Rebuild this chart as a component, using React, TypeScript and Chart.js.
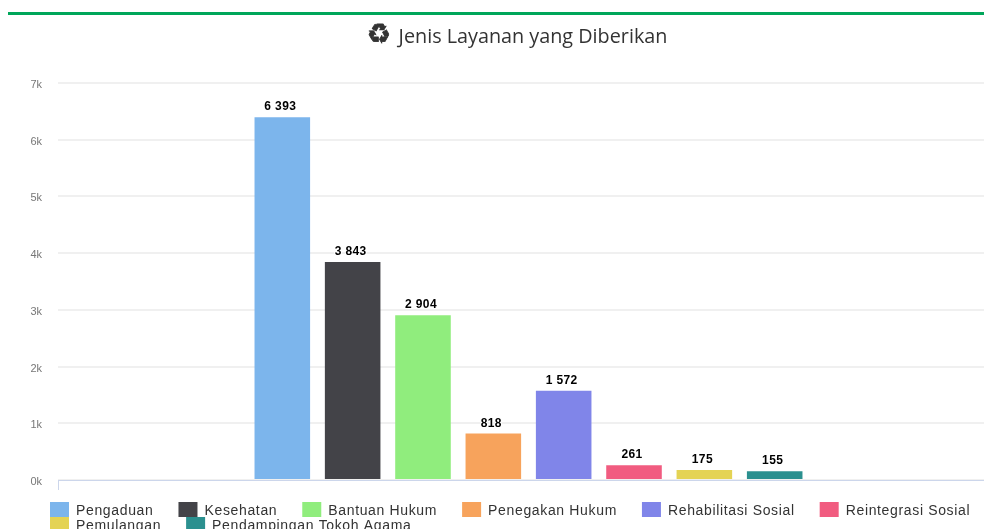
import React, { useEffect, useRef } from "react";
import { Chart, registerables } from "chart.js";

Chart.register(...registerables);

const categories = ["Jenis Layanan"];
const seriesNames = ["Pengaduan", "Kesehatan", "Bantuan Hukum", "Penegakan Hukum", "Rehabilitasi Sosial", "Reintegrasi Sosial", "Pemulangan", "Pendampingan Tokoh Agama"];
const seriesValues = [6393, 3843, 2904, 818, 1572, 261, 175, 155];
const seriesColors = ["#7cb5ec", "#434348", "#90ed7d", "#f7a35c", "#8085e9", "#f15c80", "#e4d354", "#2b908f"];
const titleText = "Jenis Layanan yang Diberikan";
const titleIcon = "♻";

const formatValue = (v: number) => String(v).replace(/\B(?=(\d{3})+(?!\d))/g, " ");

const titleShift = {
  id: "titleShift",
  afterLayout(chart: any) {
    chart.titleBlock.left = 0;
    chart.titleBlock.right = 1066;
  },
};

const valueLabels = {
  id: "valueLabels",
  afterDatasetsDraw(chart: any) {
    const ctx = chart.ctx;
    ctx.save();
    ctx.font = 'bold 12px "Liberation Sans", Arial, sans-serif';
    (ctx as any).letterSpacing = "0.4px";
    ctx.textAlign = "center";
    ctx.textBaseline = "alphabetic";
    ctx.lineJoin = "round";
    chart.data.datasets.forEach((ds: any, i: number) => {
      const el = chart.getDatasetMeta(i).data[0];
      const text = formatValue(ds.data[0]);
      ctx.lineWidth = 2;
      ctx.strokeStyle = "#ffffff";
      ctx.fillStyle = "#000000";
      ctx.strokeText(text, el.x - 2, el.y - 7);
      ctx.fillText(text, el.x - 2, el.y - 7);
    });
    ctx.restore();
  },
};

const titleGlyph = {
  id: "titleGlyph",
  afterDraw(chart: any) {
    const ctx = chart.ctx;
    ctx.save();
    ctx.font = '27px "DejaVu Sans", sans-serif';
    ctx.textAlign = "center";
    ctx.textBaseline = "middle";
    ctx.fillStyle = "#333333";
    ctx.strokeStyle = "#333333";
    ctx.lineWidth = 0.8;
    ctx.fillText(titleIcon, 379, 36);
    ctx.strokeText(titleIcon, 379, 36);
    ctx.restore();
  },
};

const compactLegend = {
  id: "compactLegend",
  afterDraw(chart: any) {
    const ctx = chart.ctx;
    const startX = 50;
    const maxX = 985;
    const gap = 25;
    const boxW = 19;
    const boxH = 15;
    const textGap = 7;
    const rowH = 15;
    let x = startX;
    let y = 502;
    ctx.save();
    ctx.font = '14px "Liberation Sans", Arial, sans-serif';
    (ctx as any).letterSpacing = "0.65px";
    ctx.textAlign = "left";
    ctx.textBaseline = "alphabetic";
    chart.data.datasets.forEach((ds: any) => {
      const w = ctx.measureText(ds.label).width;
      if (x + boxW + textGap + w > maxX) {
        x = startX;
        y += rowH;
      }
      ctx.fillStyle = ds.backgroundColor;
      ctx.fillRect(x, y, boxW, boxH);
      ctx.fillStyle = "#333333";
      ctx.fillText(ds.label, x + boxW + textGap, y + 13);
      x += boxW + textGap + w + gap;
    });
    ctx.restore();
  },
};

export default function App() {
  const ref = useRef<HTMLCanvasElement>(null);

  useEffect(() => {
    const chart = new Chart(ref.current as HTMLCanvasElement, {
      type: "bar",
      data: {
        labels: categories,
        datasets: seriesNames.map((name, i) => ({
          label: name,
          data: [seriesValues[i]],
          backgroundColor: seriesColors[i],
          barPercentage: 0.79,
          categoryPercentage: 0.598,
        })),
      },
      options: {
        responsive: false,
        animation: false,
        layout: { padding: { left: 0, right: 67, top: 0, bottom: 39 } },
        plugins: {
          legend: { display: false },
          tooltip: { enabled: false },
          title: {
            display: true,
            text: titleText,
            color: "#333333",
            font: { family: '"Open Sans", "DejaVu Sans", sans-serif', size: 19.8, weight: "normal" },
            padding: { top: 25, bottom: 34 },
          },
        },
        scales: {
          x: {
            grid: { drawOnChartArea: false, drawTicks: true, tickLength: 10, color: "#ccd6eb" },
            border: { color: "#ccd6eb" },
            ticks: { display: false },
          },
          y: {
            min: 0,
            max: 7000,
            afterFit: (scale: any) => {
              scale.width = 58;
            },
            grid: { color: "#f0f0f0", lineWidth: 2, drawTicks: false },
            border: { display: false },
            ticks: {
              stepSize: 1000,
              padding: 16,
              labelOffset: 2,
              color: "#777777",
              font: { family: '"Liberation Sans", Arial, sans-serif', size: 11 },
              callback: (v: any) => `${Number(v) / 1000}k`,
            },
          },
        },
      },
      plugins: [titleShift, valueLabels, titleGlyph, compactLegend],
    } as any);
    return () => chart.destroy();
  }, []);

  return (
    <div style={{ position: "fixed", left: 0, top: 0, width: 984, height: 529, overflow: "hidden", background: "#ffffff" }}>
      <div style={{ position: "absolute", left: 8, right: 0, top: 12, height: 3, background: "#00a65a" }} />
      <canvas ref={ref} width={1066} height={529} style={{ display: "block" }} />
    </div>
  );
}
